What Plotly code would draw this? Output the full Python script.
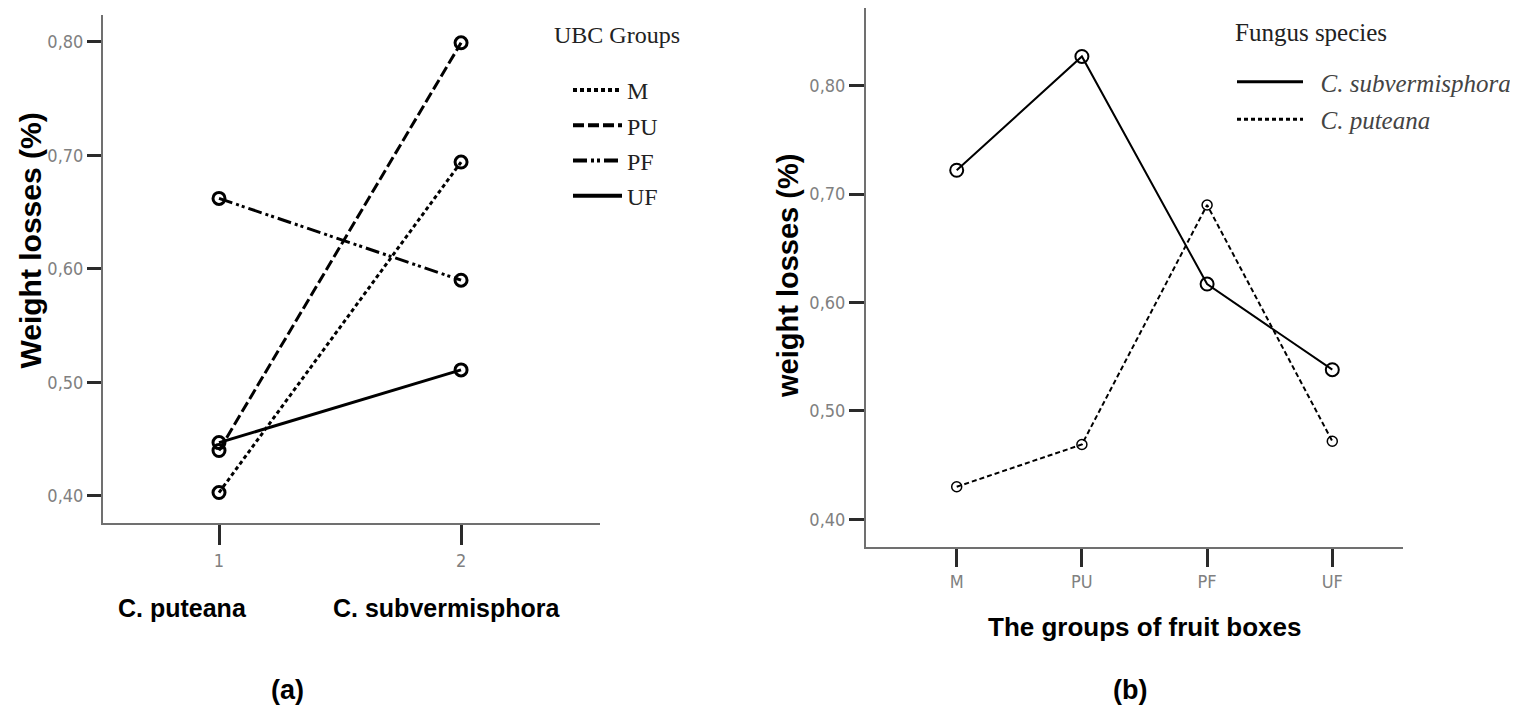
import plotly.graph_objects as go

# ---------------- data ----------------
fungi_a = [1, 2]
fungi_a_ticktext = ["1", "2"]
fungi_a_labels = ["C. puteana", "C. subvermisphora"]
ubc_groups = ["M", "PU", "PF", "UF"]
ubc_M = [0.403, 0.694]
ubc_PU = [0.440, 0.799]
ubc_PF = [0.662, 0.590]
ubc_UF = [0.447, 0.511]

box_groups = ["M", "PU", "PF", "UF"]
c_subvermisphora = [0.722, 0.827, 0.617, 0.538]
c_puteana = [0.430, 0.469, 0.690, 0.472]

y_ticks = [0.40, 0.50, 0.60, 0.70, 0.80]
y_ticktext = ["0,40", "0,50", "0,60", "0,70", "0,80"]

# ---------------- geometry helpers (screen px -> paper) ----------------
OFF = 8  # default body margin of the html page
W, H = 1518 - OFF, 706 - OFF


def px(x):
    return (x - OFF) / W


def py(y):
    return 1 - (y - OFF) / H


serif = "Liberation Serif, Times New Roman, serif"
sans = "Liberation Sans, Arial, sans-serif"
narrow = "Liberation Sans Narrow, Arial Narrow, DejaVu Sans Condensed, sans-serif"

fig = go.Figure()

dash_a = {"M": "4px,3px", "PU": "11px,4px", "PF": "14px,4px,3px,3px,3px,4px", "UF": "solid"}
vals_a = {"M": ubc_M, "PU": ubc_PU, "PF": ubc_PF, "UF": ubc_UF}
for g in ubc_groups:
    fig.add_trace(go.Scatter(
        x=fungi_a, y=vals_a[g], name=g, mode="lines+markers", showlegend=False,
        line=dict(color="black", width=3, dash=dash_a[g]),
        marker=dict(symbol="circle-open", size=12, color="black", line=dict(width=3)),
        xaxis="x", yaxis="y",
    ))
# legend keys (lines only, as in the reference)
for g in ubc_groups:
    fig.add_trace(go.Scatter(
        x=[None], y=[None], name=g, mode="lines",
        line=dict(color="black", width=4, dash=dash_a[g]),
        xaxis="x", yaxis="y", legend="legend", legendgroup=g,
    ))

fig.add_trace(go.Scatter(
    x=box_groups, y=c_subvermisphora, name="C. subvermisphora", mode="lines+markers", showlegend=False,
    line=dict(color="black", width=2),
    marker=dict(symbol="circle-open", size=13, color="black", line=dict(width=2)),
    xaxis="x2", yaxis="y2",
))
fig.add_trace(go.Scatter(
    x=box_groups, y=c_puteana, name="C. puteana", mode="lines+markers", showlegend=False,
    line=dict(color="black", width=2, dash="5px,3px"),
    marker=dict(symbol="circle-open", size=10, color="black", line=dict(width=1.5)),
    xaxis="x2", yaxis="y2",
))
fig.add_trace(go.Scatter(
    x=[None], y=[None], name="&nbsp;&nbsp;<i>C. subvermisphora</i>", mode="lines",
    line=dict(color="black", width=3), xaxis="x2", yaxis="y2", legend="legend2", legendgroup="s",
))
fig.add_trace(go.Scatter(
    x=[None], y=[None], name="&nbsp;&nbsp;<i>C. puteana</i>", mode="lines",
    line=dict(color="black", width=3, dash="4px,3px"), xaxis="x2", yaxis="y2", legend="legend2", legendgroup="p",
))

axis_common = dict(showgrid=False, zeroline=False, showline=True, linecolor="#707070",
                   linewidth=2, ticks="outside", tickcolor="#2a2a2a", tickwidth=2.5)
tickfont = dict(family=narrow, size=18, color="#808080")

fig.update_layout(
    width=W, height=H,
    margin=dict(l=0, r=0, t=0, b=0),
    paper_bgcolor="white", plot_bgcolor="white",
    showlegend=True,
    xaxis=dict(domain=[px(103), px(600)], range=[0.5207, 2.574],
               tickvals=fungi_a, ticktext=fungi_a_ticktext, ticklen=20,
               tickfont=tickfont, anchor="y", **axis_common),
    yaxis=dict(domain=[py(523), py(15)], range=[0.3762, 0.8235],
               tickvals=y_ticks, ticktext=y_ticktext, ticklen=14,
               tickfont=tickfont, anchor="x", **axis_common),
    xaxis2=dict(domain=[px(866), px(1403)], type="category", range=[-0.7244, 3.5647],
                ticklen=18, tickfont=tickfont, anchor="y2", **axis_common),
    yaxis2=dict(domain=[py(546.7), py(8)], range=[0.3747, 0.8717],
                tickvals=y_ticks, ticktext=y_ticktext, ticklen=15,
                tickfont=tickfont, anchor="x2", **axis_common),
    legend=dict(x=px(568), y=py(68), xanchor="left", yanchor="top",
                bgcolor="rgba(0,0,0,0)", tracegroupgap=1, itemwidth=49,
                font=dict(family=serif, size=24, color="#222")),
    legend2=dict(x=px(1232), y=py(59), xanchor="left", yanchor="top",
                 bgcolor="rgba(0,0,0,0)", tracegroupgap=2, itemwidth=66,
                 font=dict(family=serif, size=25, color="#444")),
)

ann = dict(xref="paper", yref="paper", showarrow=False, xanchor="center", yanchor="middle")
annotations = [
    dict(text="UBC Groups", x=px(552), y=py(35), font=dict(family=serif, size=24, color="#222"),
         **{**ann, "xanchor": "left"}),
    dict(text="Fungus species", x=px(1233), y=py(32), font=dict(family=serif, size=25, color="#222"),
         **{**ann, "xanchor": "left"}),
    dict(text="<b>Weight losses (%)</b>", x=px(29.5), y=py(241), textangle=-90,
         font=dict(family=sans, size=30, color="black"), **ann),
    dict(text="<b>weight losses (%)</b>", x=px(788), y=py(276), textangle=-90,
         font=dict(family=sans, size=29, color="black"), **ann),
    dict(text="<b>The groups of fruit boxes</b>", x=px(1144.5), y=py(626.7),
         font=dict(family=sans, size=26, color="black"), **ann),
    dict(text="<b>" + fungi_a_labels[0] + "</b>", x=px(182.2), y=py(608),
         font=dict(family=sans, size=25, color="black"), **ann),
    dict(text="<b>" + fungi_a_labels[1] + "</b>", x=px(447.5), y=py(608),
         font=dict(family=sans, size=25, color="black"), **ann),
    dict(text="<b>(a)</b>", x=px(287), y=py(690), font=dict(family=sans, size=27, color="black"), **ann),
    dict(text="<b>(b)</b>", x=px(1130), y=py(690), font=dict(family=sans, size=27, color="black"), **ann),
]
fig.update_layout(annotations=annotations)

fig.write_html("out.html")
